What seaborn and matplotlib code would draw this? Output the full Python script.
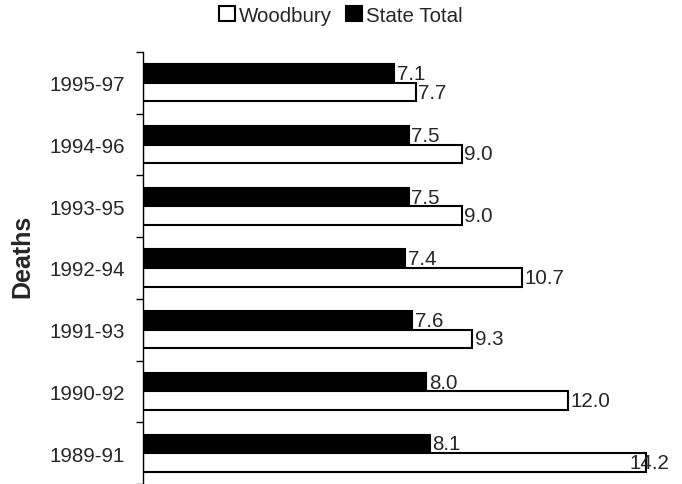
import matplotlib
matplotlib.use("Agg")
import matplotlib.pyplot as plt
import seaborn as sns
import pandas as pd
from matplotlib.patches import Patch

periods = ["1995-97", "1994-96", "1993-95", "1992-94", "1991-93", "1990-92", "1989-91"]
state_total = [7.1, 7.5, 7.5, 7.4, 7.6, 8.0, 8.1]
woodbury = [7.7, 9.0, 9.0, 10.7, 9.3, 12.0, 14.2]
series_names = ["State Total", "Woodbury"]

sns.set_style("white")
plt.rcParams['font.family'] = ['Liberation Sans', 'DejaVu Sans']

rows = []
for p, s, w in zip(periods, state_total, woodbury):
    rows.append({"period": p, "series": "State Total", "value": s})
    rows.append({"period": p, "series": "Woodbury", "value": w})
df = pd.DataFrame(rows)

fig = plt.figure(figsize=(6.82, 4.85), dpi=100)
ax = fig.add_axes([143/682, 0.0, 531/682, 432/485])

palette = {"State Total": "black", "Woodbury": "white"}
sns.barplot(data=df, y="period", x="value", hue="series", order=periods,
            hue_order=series_names, palette=palette, orient="h", width=0.6,
            edgecolor="black", linewidth=1.5, ax=ax, legend=False, saturation=1)

xmax = 15
ax.set_xlim(0, xmax)
ax.set_ylim(len(periods) - 0.5, -0.5)

fs = 14.8
# value labels
for container, vals in zip(ax.containers, [state_total, woodbury]):
    for bar, v in zip(container, vals):
        yc = bar.get_y() + bar.get_height() / 2
        if v > xmax - 0.9:
            ax.annotate(f"{v:.1f}", xy=(xmax, yc), xytext=(-3, 0),
                        textcoords="offset points", ha="right", va="center", fontsize=fs)
        else:
            ax.annotate(f"{v:.1f}", xy=(v, yc), xytext=(2, 0),
                        textcoords="offset points", ha="left", va="center", fontsize=fs)

for s in ["top", "right", "bottom"]:
    ax.spines[s].set_visible(False)
ax.spines["left"].set_color("black")
ax.spines["left"].set_linewidth(1.0)
ax.xaxis.set_visible(False)

ax.set_yticks(range(len(periods)))
ax.set_yticklabels(periods, fontsize=fs)
ax.tick_params(axis="y", which="major", length=0, pad=13)
ax.set_yticks([i - 0.5 for i in range(len(periods) + 1)], minor=True)
ax.tick_params(axis="y", which="minor", length=5, width=1, color="black", left=True)
ax.set_ylabel("Deaths", fontsize=18, fontweight="bold")
ax.yaxis.set_label_coords((34 - 143) / 531, (485 - 256) / 432)

handles = [Patch(facecolor="white", edgecolor="black", linewidth=1.5, label="Woodbury"),
           Patch(facecolor="black", edgecolor="black", linewidth=1.5, label="State Total")]
fig.legend(handles=handles, loc="center", bbox_to_anchor=(0.5, 1 - 16 / 485), ncol=2,
           frameon=False, fontsize=fs, handlelength=0.75, handleheight=0.75,
           handletextpad=0.2, columnspacing=0.7, borderpad=0)

fig.savefig("out.png", dpi=100)
